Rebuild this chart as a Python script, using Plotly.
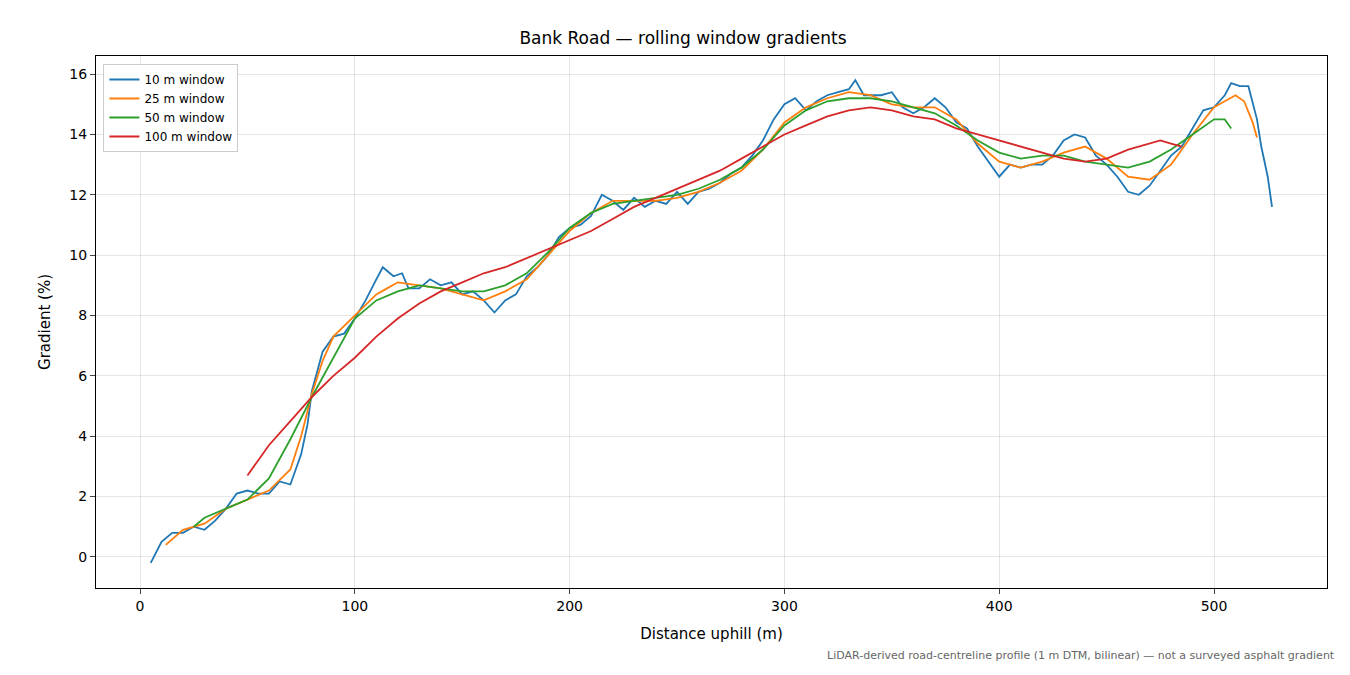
import plotly.graph_objects as go

# 10 m window
d10 = [5, 10, 15, 20, 25, 30, 35, 40, 45, 50, 55, 60, 65, 70, 75, 78, 80, 85, 90, 95,
       100, 105, 110, 113, 118, 122, 125, 130, 135, 140, 145, 150, 155, 160, 165, 170,
       175, 180, 185, 190, 195, 200, 205, 210, 215, 220, 225, 230, 235, 240, 245, 250,
       255, 260, 265, 270, 275, 280, 285, 290, 295, 300, 305, 310, 315, 320, 325, 330,
       333, 337, 340, 345, 350, 355, 360, 365, 370, 375, 380, 385, 390, 395, 400, 405,
       410, 415, 420, 425, 430, 435, 440, 445, 450, 455, 460, 465, 470, 475, 480, 485,
       490, 495, 500, 505, 508, 512, 516, 520, 522, 525, 527]
g10 = [-0.2, 0.5, 0.8, 0.8, 1.0, 0.9, 1.2, 1.6, 2.1, 2.2, 2.1, 2.1, 2.5, 2.4, 3.4, 4.4,
       5.5, 6.8, 7.3, 7.4, 7.9, 8.5, 9.2, 9.6, 9.3, 9.4, 8.9, 8.9, 9.2, 9.0, 9.1, 8.7,
       8.8, 8.5, 8.1, 8.5, 8.7, 9.3, 9.6, 10.0, 10.6, 10.9, 11.0, 11.3, 12.0, 11.8, 11.5,
       11.9, 11.6, 11.8, 11.7, 12.1, 11.7, 12.1, 12.2, 12.4, 12.7, 12.9, 13.3, 13.8, 14.5,
       15.0, 15.2, 14.8, 15.1, 15.3, 15.4, 15.5, 15.8, 15.3, 15.3, 15.3, 15.4, 14.9, 14.7,
       14.9, 15.2, 14.9, 14.4, 14.2, 13.6, 13.1, 12.6, 13.0, 12.9, 13.0, 13.0, 13.3, 13.8,
       14.0, 13.9, 13.3, 13.0, 12.6, 12.1, 12.0, 12.3, 12.8, 13.3, 13.6, 14.2, 14.8, 14.9,
       15.3, 15.7, 15.6, 15.6, 14.5, 13.6, 12.6, 11.6]

# 25 m window
d25 = [12, 20, 30, 40, 50, 60, 70, 75, 80, 85, 90, 100, 110, 115, 120, 130, 140, 150,
       160, 170, 180, 190, 200, 210, 220, 230, 240, 250, 260, 270, 280, 290, 300, 310,
       320, 330, 340, 350, 360, 370, 380, 390, 400, 410, 420, 430, 440, 450, 460, 470,
       480, 490, 500, 505, 510, 514, 518, 520]
g25 = [0.4, 0.9, 1.1, 1.6, 1.9, 2.2, 2.9, 4.0, 5.4, 6.5, 7.3, 8.0, 8.7, 8.9, 9.1, 9.0,
       8.9, 8.7, 8.5, 8.8, 9.2, 10.0, 10.8, 11.4, 11.8, 11.8, 11.8, 11.9, 12.1, 12.4,
       12.8, 13.5, 14.4, 14.9, 15.2, 15.4, 15.3, 15.0, 14.9, 14.9, 14.5, 13.7, 13.1,
       12.9, 13.1, 13.4, 13.6, 13.2, 12.6, 12.5, 13.0, 14.0, 14.9, 15.1, 15.3, 15.1,
       14.4, 13.9]

# 50 m window
d50 = [25, 30, 40, 50, 60, 70, 80, 90, 100, 110, 120, 130, 140, 150, 160, 170, 180,
       190, 200, 210, 220, 230, 240, 250, 260, 270, 280, 290, 300, 310, 320, 330, 340,
       350, 360, 370, 380, 390, 400, 410, 420, 430, 440, 450, 460, 470, 480, 490, 500,
       505, 508]
g50 = [1.0, 1.3, 1.6, 1.9, 2.6, 3.9, 5.3, 6.6, 7.9, 8.5, 8.8, 9.0, 8.9, 8.8, 8.8, 9.0,
       9.4, 10.1, 10.9, 11.4, 11.7, 11.8, 11.9, 12.0, 12.2, 12.5, 12.9, 13.5, 14.3, 14.8,
       15.1, 15.2, 15.2, 15.1, 14.9, 14.7, 14.3, 13.8, 13.4, 13.2, 13.3, 13.3, 13.1,
       13.0, 12.9, 13.1, 13.5, 14.0, 14.5, 14.5, 14.2]

# 100 m window
d100 = [50, 55, 60, 70, 80, 90, 100, 110, 120, 130, 140, 150, 160, 170, 180, 190, 200,
        210, 220, 230, 240, 250, 260, 270, 280, 290, 300, 310, 320, 330, 340, 350, 360,
        370, 380, 390, 400, 410, 420, 430, 440, 450, 460, 470, 475, 480, 485]
g100 = [2.7, 3.2, 3.7, 4.5, 5.3, 6.0, 6.6, 7.3, 7.9, 8.4, 8.8, 9.1, 9.4, 9.6, 9.9, 10.2,
        10.5, 10.8, 11.2, 11.6, 11.9, 12.2, 12.5, 12.8, 13.2, 13.6, 14.0, 14.3, 14.6,
        14.8, 14.9, 14.8, 14.6, 14.5, 14.2, 14.0, 13.8, 13.6, 13.4, 13.2, 13.1, 13.2,
        13.5, 13.7, 13.8, 13.7, 13.6]

series = [
    ("10 m window", d10, g10, "#1f77b4"),
    ("25 m window", d25, g25, "#ff7f0e"),
    ("50 m window", d50, g50, "#2ca02c"),
    ("100 m window", d100, g100, "#d62728"),
]

fig = go.Figure()
for name, x, y, col in series:
    fig.add_trace(go.Scatter(x=x, y=y, name=name, mode="lines",
                             line=dict(color=col, width=1.8)))

axis = dict(showline=True, linecolor="black", mirror=True, ticks="outside",
            gridcolor="rgba(0,0,0,0.1)", zeroline=False,
            tickfont=dict(size=14, color="black"))
fig.update_layout(
    width=1350, height=675,
    font=dict(family="DejaVu Sans", color="black"),
    plot_bgcolor="white", paper_bgcolor="white",
    margin=dict(l=88, r=31, t=48, b=95),
    title=dict(text="Bank Road — rolling window gradients", x=0.5, y=0.965,
               xanchor="center", font=dict(size=17)),
    xaxis=dict(axis, range=[-20.5, 552.6], dtick=100,
               title=dict(text="Distance uphill (m)", font=dict(size=15))),
    yaxis=dict(axis, range=[-1.03, 16.6], dtick=2,
               title=dict(text="Gradient (%)", font=dict(size=15))),
    legend=dict(x=0.006, y=0.985, xanchor="left", yanchor="top",
                bordercolor="#cccccc", borderwidth=1, bgcolor="white",
                font=dict(size=12)),
)
fig.add_annotation(text="LiDAR-derived road-centreline profile (1 m DTM, bilinear) — not a surveyed asphalt gradient",
                   xref="paper", yref="paper", x=1.008, y=-0.11,
                   xanchor="right", yanchor="top", showarrow=False,
                   font=dict(size=11, color="#666666"))

fig.write_html("out.html")
